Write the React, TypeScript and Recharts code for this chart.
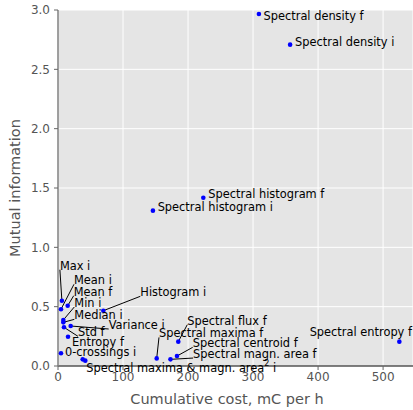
import React from 'react';
import { ScatterChart, Scatter, XAxis, YAxis, CartesianGrid } from 'recharts';

// feature names, cost (mC per h) and mutual information
const names = [
  'Spectral density f',
  'Spectral density i',
  'Spectral histogram f',
  'Spectral histogram i',
  'Histogram i',
  'Max i',
  'Mean i',
  'Mean f',
  'Min i',
  'Median i',
  'Variance i',
  'Std f',
  'Entropy f',
  '0-crossings i',
  'Spectral maxima i',
  'Spectral magn. area i',
  'Spectral maxima f',
  'Spectral flux f',
  'Spectral centroid f',
  'Spectral magn. area f',
  'Spectral entropy f',
];
const costs = [309, 357, 223.5, 146, 69.7, 6, 4.6, 14.9, 8.2, 8.2, 19.5, 9.2, 15.4, 4.6, 38, 42, 151.8, 185, 183, 173, 525];
const mutualInfo = [2.966, 2.708, 1.418, 1.309, 0.466, 0.55, 0.478, 0.508, 0.388, 0.368, 0.337, 0.326, 0.247, 0.107, 0.056, 0.045, 0.064, 0.205, 0.084, 0.056, 0.205];

const xTicks = [0, 100, 200, 300, 400, 500];
const yTicks = [0, 0.5, 1, 1.5, 2, 2.5, 3];

const data = names.map((name, i) => ({ name, cost: costs[i], mi: mutualInfo[i] }));

// where each annotation text sits relative to its dot (px), and whether it has a leader line
const labelLayout: Record<string, { dx: number; dy: number; line?: boolean; hide?: boolean }> = {
  'Spectral density f': { dx: 4.6, dy: 1.7 },
  'Spectral density i': { dx: 5, dy: -3 },
  'Spectral histogram f': { dx: 5, dy: -3.7 },
  'Spectral histogram i': { dx: 4.7, dy: -4 },
  'Histogram i': { dx: 37, dy: -18.4, line: true },
  'Max i': { dx: -2, dy: -35, line: true },
  'Mean i': { dx: 13, dy: -29, line: true },
  'Mean f': { dx: 6, dy: -14, line: true },
  'Min i': { dx: 11, dy: -17, line: true },
  'Median i': { dx: 11, dy: -7, line: true },
  'Variance i': { dx: 38, dy: -1, line: true },
  'Std f': { dx: 14, dy: 5, line: true },
  'Entropy f': { dx: 4, dy: 5 },
  '0-crossings i': { dx: 4, dy: -1 },
  'Spectral maxima i': { dx: 0, dy: 0, hide: true },
  'Spectral magn. area i': { dx: 1, dy: 7.6 },
  'Spectral maxima f': { dx: 2.3, dy: -25, line: true },
  'Spectral flux f': { dx: 9, dy: -21, line: true },
  'Spectral centroid f': { dx: 15.7, dy: -12.7, line: true },
  'Spectral magn. area f': { dx: 22.6, dy: -5.3, line: true },
  'Spectral entropy f': { dx: -89.7, dy: -9.4 },
};

const FONT = '"DejaVu Sans", sans-serif';

const PointWithLabel = (props: any) => {
  const { cx, cy, payload } = props;
  const lay = labelLayout[payload.name] || { dx: 5, dy: 0 };
  const tx = cx + lay.dx;
  const ty = cy + lay.dy;
  let text: React.ReactNode = payload.name;
  if (payload.name === 'Spectral magn. area i') {
    text = (
      <>
        Spectral maxima &amp; magn. area
        <tspan dy={-5} fontSize={8}>2</tspan>
        <tspan dy={5}> i</tspan>
      </>
    );
  }
  return (
    <g>
      {lay.line && <line x1={tx} y1={ty + 4} x2={cx} y2={cy} stroke="#000" strokeWidth={1} />}
      <circle cx={cx} cy={cy} r={2.3} fill="#0000ff" />
      {!lay.hide && (
        <text x={tx} y={ty} dominantBaseline="central" fontSize={11.4} fontFamily={FONT} fill="#000">
          {text}
        </text>
      )}
    </g>
  );
};

const App: React.FC = () => {
  return (
    <div style={{ position: 'absolute', left: 0, top: 0, width: 413, height: 410, background: '#fff' }}>
      <ScatterChart width={413} height={410} margin={{ top: 10, right: 0, bottom: 0, left: 0 }}>
        <CartesianGrid fill="#E5E5E5" stroke="#fff" strokeWidth={1} />
        <XAxis
          type="number"
          dataKey="cost"
          domain={[0, 546]}
          ticks={xTicks}
          height={44}
          tickSize={4}
          tickMargin={2}
          axisLine={{ stroke: '#000', strokeWidth: 1 }}
          tickLine={{ stroke: '#666' }}
          tick={{ fill: '#555', fontSize: 12, fontFamily: FONT }}
          label={() => (
            <text x={227} y={399} textAnchor="middle" dominantBaseline="central" fontSize={14.5} fontFamily={FONT} fill="#555">
              Cumulative cost, mC per h
            </text>
          )}
        />
        <YAxis
          type="number"
          dataKey="mi"
          domain={[0, 3]}
          ticks={yTicks}
          width={58}
          tickSize={4}
          tickMargin={4}
          tickFormatter={(v: number) => v.toFixed(1)}
          axisLine={{ stroke: '#808080', strokeWidth: 1.5 }}
          tickLine={{ stroke: '#666' }}
          tick={{ fill: '#555', fontSize: 12, fontFamily: FONT }}
          label={() => (
            <text
              x={15}
              y={188}
              transform="rotate(-90 15 188)"
              textAnchor="middle"
              dominantBaseline="central"
              fontSize={14.5}
              fontFamily={FONT}
              fill="#555"
            >
              Mutual information
            </text>
          )}
        />
        <Scatter data={data} shape={PointWithLabel} isAnimationActive={false} />
      </ScatterChart>
    </div>
  );
};

export default App;
